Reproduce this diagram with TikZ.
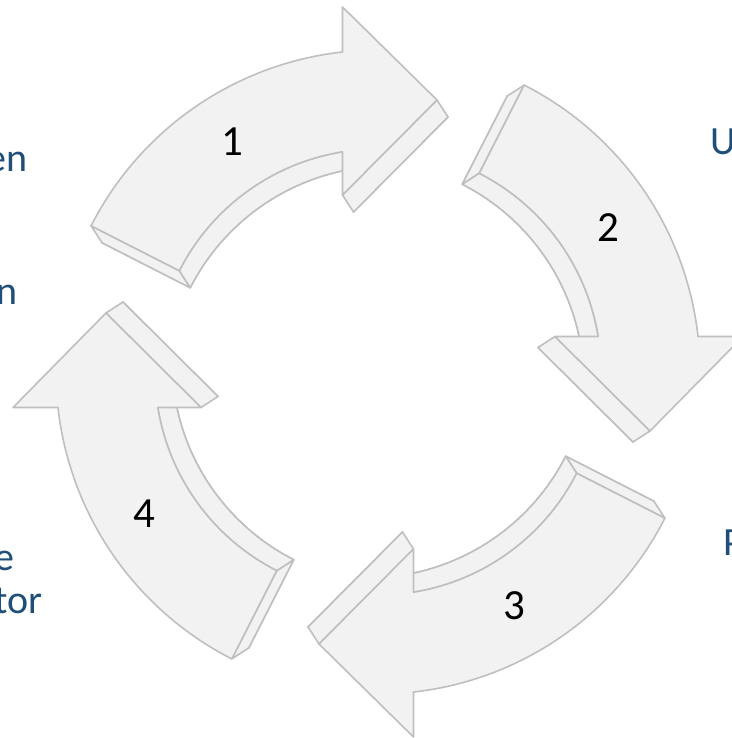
\documentclass[tikz,border=0pt]{standalone}
\usepackage{fontspec}
\setmainfont{Carlito}
\begin{document}
\begin{tikzpicture}[x=1pt,y=1pt]
\definecolor{arrowfill}{RGB}{242,242,242}
\definecolor{arrowline}{RGB}{191,191,191}
\definecolor{labelblue}{RGB}{31,78,121}
\tikzset{
  face/.style={fill=arrowfill, draw=arrowline, line width=1.6pt, line join=round},
  digit/.style={font=\fontsize{43}{50}\selectfont, text=black, inner sep=0pt},
  side label/.style={font=\fontsize{40}{48}\selectfont, text=labelblue, inner sep=0pt},
  front path/.style={insert path={(153:322pt) arc[start angle=153,end angle=96.33,radius=322pt]
      -- (-35.5,365) -- (59,272) -- (-35.5,177) -- (-35.5,220.2)
      arc[start angle=99.16,end angle=153,radius=223pt] -- cycle}},
  tail side/.style={insert path={(-286.9,146.2) -- (-198.7,101.2) -- (-187.7,84.2) -- (-275.9,129.2) -- cycle}},
  inner side/.style={insert path={(-35.5,220.2) arc[start angle=99.16,end angle=153,radius=223pt]
      -- ++(11,-17) arc[start angle=153,end angle=99.16,radius=223pt] -- cycle}},
  head side/.style={insert path={(-35.5,177) -- (59,272) -- (70,255) -- (-24.5,160) -- cycle}},
}
\useasboundingbox (-378,372) rectangle (353,-366);
% four 3D curved arrows, each the first one turned clockwise
\foreach \r in {0,-90,-180,-270}{
  \begin{scope}[rotate=\r]
    \begin{scope}[shift={(11,-17)}]
      \path[face, front path];
    \end{scope}
    \path[face, tail side];
    \path[face, inner side];
    \path[face, head side];
    \path[face, front path];
  \end{scope}
}
% numbers
\node[digit] (n1) at (-146,230) {1};
\node[digit] (n2) at (230,144) {2};
\node[digit] (n3) at (136,-234) {3};
\node[digit] (n4) at (-234,-142) {4};
% labels (cut by the picture edge)
\node[side label, anchor=base east] (t1a) at (-350,200) {en};
\node[side label, anchor=base east] (t1b) at (-360,67) {n};
\node[side label, anchor=base west] (t2) at (332,217) {U};
\node[side label, anchor=base west] (t3) at (345,-183) {P};
\node[side label, anchor=base east] (t4a) at (-363,-198) {e};
\node[side label, anchor=base east] (t4b) at (-335,-241) {tor};
\end{tikzpicture}
\end{document}
